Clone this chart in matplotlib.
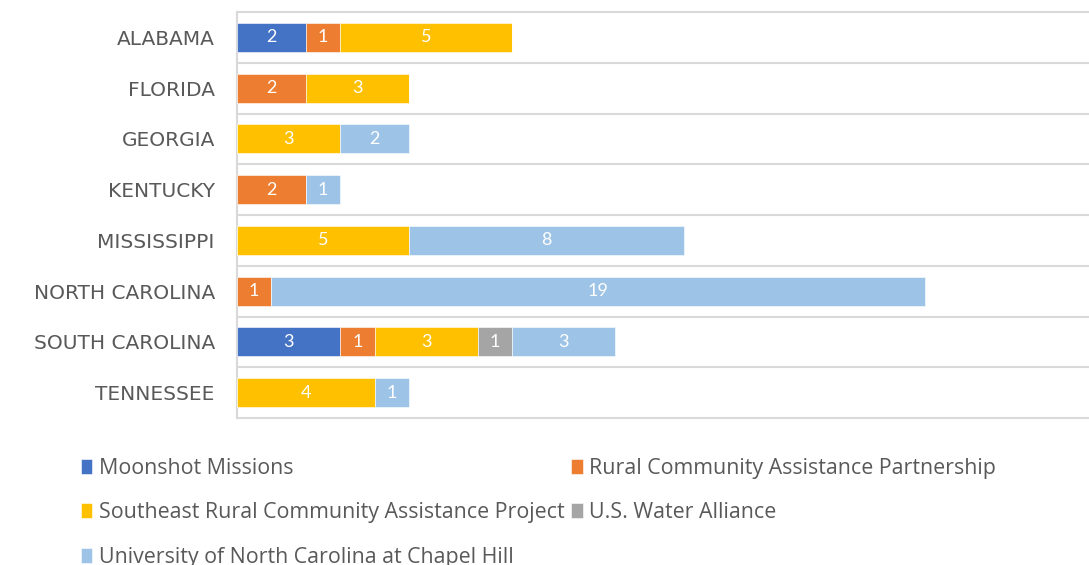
import matplotlib
matplotlib.use("Agg")
import matplotlib.pyplot as plt
import numpy as np

states = ["ALABAMA", "FLORIDA", "GEORGIA", "KENTUCKY", "MISSISSIPPI",
          "NORTH CAROLINA", "SOUTH CAROLINA", "TENNESSEE"]
series_names = ["Moonshot Missions",
                "Rural Community Assistance Partnership",
                "Southeast Rural Community Assistance Project",
                "U.S. Water Alliance",
                "University of North Carolina at Chapel Hill"]
moonshot = [2, 0, 0, 0, 0, 0, 3, 0]
rcap = [1, 2, 0, 2, 0, 1, 1, 0]
srcap = [5, 3, 3, 0, 5, 0, 3, 4]
uswa = [0, 0, 0, 0, 0, 0, 1, 0]
unc = [0, 0, 2, 1, 8, 19, 3, 1]
colors = ["#4472C4", "#ED7D31", "#FFC000", "#A5A5A5", "#9DC3E6"]

W, H = 1089, 565
fig = plt.figure(figsize=(W / 100, H / 100), dpi=100)
ax = fig.add_axes([237 / W, 1 - 418 / H, 1 - 237 / W, (418 - 12) / H])

y = np.arange(len(states))
left = np.zeros(len(states))
handles = []
for name, vals, c in zip(series_names, [moonshot, rcap, srcap, uswa, unc], colors):
    vals = np.array(vals, dtype=float)
    bars = ax.barh(y, vals, left=left, height=0.57, color=c, label=name,
                   edgecolor="white", linewidth=0.4, zorder=3)
    handles.append(bars)
    labels = [str(int(v)) if v > 0 else "" for v in vals]
    ax.bar_label(bars, labels=labels, label_type="center", color="white",
                 fontsize=13, family="Lato", zorder=4)
    left += vals

ax.set_ylim(len(states) - 0.5, -0.5)
ax.set_xlim(0, 852 / 34.4)
ax.set_yticks(y)
ax.set_yticklabels(states, fontsize=14.5, color="#595959", family="DejaVu Sans")
ax.tick_params(axis="y", which="both", length=0, pad=16)
ax.tick_params(axis="x", which="both", length=0, labelbottom=False)
for b in np.arange(-0.5, len(states)):
    ax.axhline(b, color="#D9D9D9", linewidth=1.5, zorder=0, clip_on=False)
for s in ["top", "right", "bottom"]:
    ax.spines[s].set_visible(False)
ax.spines["left"].set_color("#D9D9D9")
ax.spines["left"].set_linewidth(1.5)

order = [0, 2, 4, 1, 3]
leg = fig.legend([handles[i] for i in order], [series_names[i] for i in order],
                 loc="upper left", bbox_to_anchor=(70 / W, 1 - 447 / H),
                 ncol=2, frameon=False, prop={"family": "Open Sans", "size": 15.4},
                 handlelength=0.55, handleheight=0.7, handletextpad=0.3,
                 columnspacing=0.3, labelspacing=1.1, labelcolor="#595959",
                 borderpad=0)

fig.savefig("out.png", dpi=100)
